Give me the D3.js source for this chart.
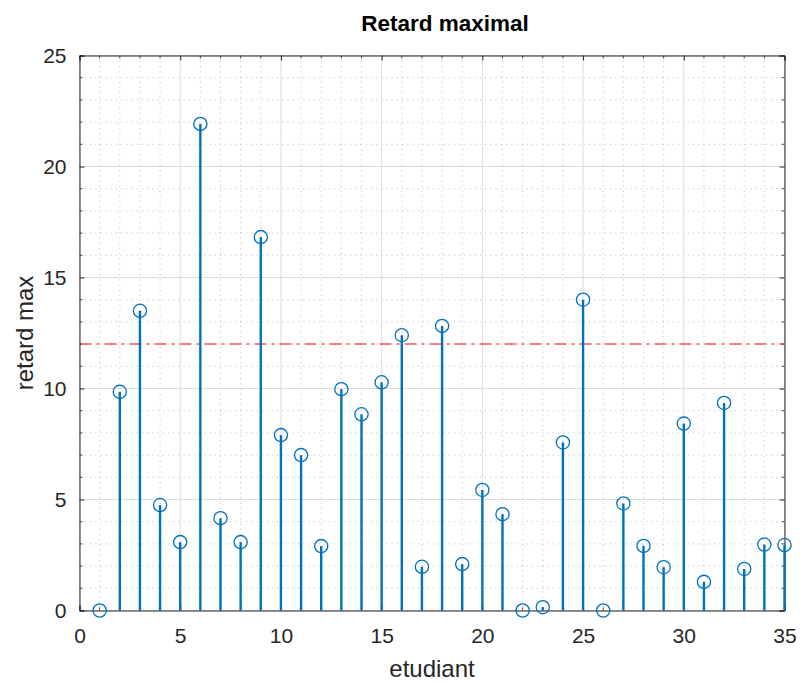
<!DOCTYPE html>
<html><head><meta charset="utf-8">
<script src="https://cdn.jsdelivr.net/npm/d3@7"></script>
<style>body{margin:0;background:#fff}text{font-family:"Liberation Sans",Arial,sans-serif}</style>
</head><body><svg id="c" width="800" height="682"></svg>
<script>
const etudiants = d3.range(1, 36);
const retardMax = [0, 9.85, 13.5, 4.75, 3.08, 21.92, 4.16, 3.08, 16.82, 7.9,
  7.0, 2.9, 9.97, 8.84, 10.28, 12.4, 1.97, 12.82, 2.09, 5.43,
  4.34, 0, 0.15, 7.57, 14.0, 0, 4.82, 2.91, 1.95, 8.42,
  1.29, 9.35, 1.87, 2.97, 2.95];
const seuil = 12;
const xTicks = [0, 5, 10, 15, 20, 25, 30, 35];
const yTicks = [0, 5, 10, 15, 20, 25];
const title = "Retard maximal", xLabel = "etudiant", yLabel = "retard max";

const svg = d3.select("#c");
const L = 79.5, R = 784.5, T = 55.5, B = 610.5;
const x = d3.scaleLinear().domain([0, 35]).range([L, R]);
const y = d3.scaleLinear().domain([0, 25]).range([B, T]);

// minor grid
const g = svg.append("g");
d3.range(0, 36).filter(v => v % 5).forEach(v => {
  g.append("line").attr("x1", x(v)).attr("x2", x(v)).attr("y1", T).attr("y2", B)
    .attr("stroke", "#b8b8b8").attr("stroke-width", 0.8).attr("stroke-dasharray", "1.2,4");
});
d3.range(0, 26).filter(v => v % 5).forEach(v => {
  g.append("line").attr("x1", L).attr("x2", R).attr("y1", y(v)).attr("y2", y(v))
    .attr("stroke", "#b8b8b8").attr("stroke-width", 0.8).attr("stroke-dasharray", "1.2,4");
});
// major grid
xTicks.forEach(v => g.append("line").attr("x1", x(v)).attr("x2", x(v)).attr("y1", T).attr("y2", B)
  .attr("stroke", "#dcdcdc").attr("stroke-width", 1));
yTicks.forEach(v => g.append("line").attr("x1", L).attr("x2", R).attr("y1", y(v)).attr("y2", y(v))
  .attr("stroke", "#dcdcdc").attr("stroke-width", 1));

// axes with d3 axis (inward ticks)
const ax = svg.append("g");
ax.append("g").attr("transform", `translate(0,${B})`)
  .call(d3.axisBottom(x).tickValues(xTicks).tickSize(-5).tickPadding(18).tickFormat(d3.format("d")));
ax.append("g").attr("transform", `translate(${L},0)`)
  .call(d3.axisLeft(y).tickValues(yTicks).tickSize(-5).tickPadding(13).tickFormat(d3.format("d")));
ax.append("g").attr("transform", `translate(0,${T})`)
  .call(d3.axisTop(x).tickValues(xTicks).tickSize(-5).tickFormat(""));
ax.append("g").attr("transform", `translate(${R},0)`)
  .call(d3.axisRight(y).tickValues(yTicks).tickSize(-5).tickFormat(""));
ax.selectAll("path.domain").attr("stroke", "#262626").attr("stroke-width", 1);
ax.selectAll(".tick line").attr("stroke", "#262626");
ax.selectAll(".tick text").attr("fill", "#262626").style("font-size", "21px")
  .style("font-family", "'Liberation Sans',Arial,sans-serif");
// minor ticks
const mt = svg.append("g").attr("stroke", "#262626").attr("stroke-width", 0.8);
d3.range(0, 36).filter(v => v % 5).forEach(v => {
  mt.append("line").attr("x1", x(v)).attr("x2", x(v)).attr("y1", B).attr("y2", B - 3);
  mt.append("line").attr("x1", x(v)).attr("x2", x(v)).attr("y1", T).attr("y2", T + 3);
});
d3.range(0, 26).filter(v => v % 5).forEach(v => {
  mt.append("line").attr("x1", L).attr("x2", L + 3).attr("y1", y(v)).attr("y2", y(v));
  mt.append("line").attr("x1", R).attr("x2", R - 3).attr("y1", y(v)).attr("y2", y(v));
});

// threshold
svg.append("line").attr("x1", L).attr("x2", R).attr("y1", y(seuil)).attr("y2", y(seuil))
  .attr("stroke", "#ff0000").attr("stroke-opacity", 0.65).attr("stroke-width", 1.5)
  .attr("stroke-dasharray", "12,5,3,5");

// stems
const data = etudiants.map((e, i) => ({e, v: retardMax[i]}));
svg.append("g").selectAll("line").data(data).join("line")
  .attr("x1", d => x(d.e)).attr("x2", d => x(d.e)).attr("y1", y(0)).attr("y2", d => y(d.v))
  .attr("stroke", "#0072BD").attr("stroke-width", 2.4);
svg.append("g").selectAll("circle").data(data).join("circle")
  .attr("cx", d => x(d.e)).attr("cy", d => y(d.v)).attr("r", 6.6)
  .attr("fill", "none").attr("stroke", "#0072BD").attr("stroke-width", 1.3);

// labels
svg.append("text").attr("x", 445).attr("y", 31).attr("text-anchor", "middle")
  .style("font-size", "22.5px").style("font-weight", "bold").attr("fill", "#000").text(title);
svg.append("text").attr("x", 432).attr("y", 677).attr("text-anchor", "middle")
  .style("font-size", "24px").attr("fill", "#262626").text(xLabel);
svg.append("text").attr("transform", `translate(33,${(T + B) / 2}) rotate(-90)`).attr("text-anchor", "middle")
  .style("font-size", "24px").attr("fill", "#262626").text(yLabel);
</script></body></html>
